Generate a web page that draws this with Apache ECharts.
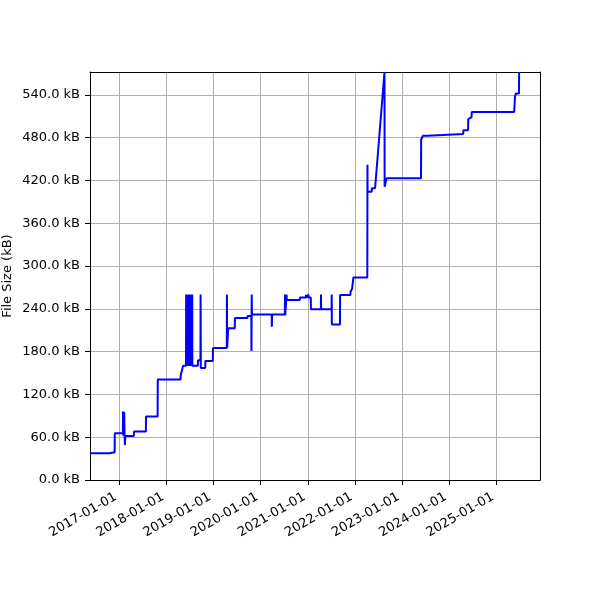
<!DOCTYPE html>
<html>
<head>
<meta charset="utf-8">
<script src="https://cdn.jsdelivr.net/npm/echarts@6/dist/echarts.min.js"></script>
<style>html,body{margin:0;padding:0;background:#fff}#c{width:600px;height:600px}</style>
</head>
<body>
<div id="c"></div>
<script>
// Commit dates and file sizes (kB)
const dates = [
 '2016-05-19','2016-07-08','2016-07-10','2016-07-13','2016-10-19','2016-10-20','2016-11-26','2016-11-27',
 '2017-01-29','2017-01-30','2017-02-01','2017-02-03','2017-02-06','2017-02-08','2017-02-11','2017-02-14','2017-02-16',
 '2017-04-24','2017-04-25','2017-07-26','2017-07-27','2017-10-25','2017-10-26',
 '2018-04-21','2018-04-22','2018-05-10',
 '2018-06-02','2018-06-03','2018-06-04','2018-06-08','2018-06-09','2018-06-10','2018-06-14','2018-06-15','2018-06-16',
 '2018-06-20','2018-06-21','2018-06-22','2018-06-26','2018-06-27','2018-06-28','2018-07-02','2018-07-03','2018-07-04',
 '2018-07-08','2018-07-09','2018-07-10','2018-07-14','2018-07-15','2018-07-16','2018-07-19','2018-07-20','2018-07-21',
 '2018-09-02','2018-09-03','2018-09-22','2018-09-23','2018-09-25','2018-10-29','2018-10-30','2018-12-27','2018-12-28',
 '2019-04-14','2019-04-15','2019-04-17','2019-04-25','2019-06-15','2019-06-16','2019-09-21','2019-09-22',
 '2019-10-21','2019-10-22','2019-10-24','2019-10-26',
 '2020-03-27','2020-03-28','2020-03-30','2020-07-07','2020-07-08','2020-07-10','2020-07-20','2020-07-22',
 '2020-10-31','2020-11-01','2020-12-17','2020-12-18','2020-12-20',
 '2021-01-04','2021-01-05','2021-01-07','2021-01-24','2021-01-25',
 '2021-04-12','2021-04-13','2021-04-14','2021-07-04','2021-07-05','2021-07-06','2021-09-07','2021-09-08',
 '2021-11-27','2021-11-28','2021-12-09','2021-12-10','2021-12-19','2021-12-20',
 '2022-04-07','2022-04-08','2022-04-09','2022-05-11','2022-05-12','2022-06-06','2022-08-18','2022-08-19','2022-09-02','2022-09-03',
 '2023-05-28','2023-05-29','2023-06-10','2023-06-11','2023-07-16','2023-07-17',
 '2024-04-19','2024-04-20','2024-05-27','2024-05-28','2024-06-10','2024-06-11','2024-06-23','2024-06-24',
 '2025-05-19','2025-05-20','2025-05-25','2025-06-02','2025-06-25','2025-06-26'
];
const sizesKB = [
 37.4,37.4,35.5,37.4,37.4,38.8,38.8,65.5,
 65.5,96,62,96,64,95,62,49,61.7,
 61.7,68,68,89,89,141,
 141,147,160,
 160,260,160,160,260,160,160,260,160,
 160,260,160,160,260,160,160,260,160,
 160,260,160,160,260,160,160,260,160,
 160,168,168,260,157,157,167,167,185,
 185,260,185,212.6,212.6,227,227,230,
 230,181,260,232,
 232,215,232,232,260,231,260,252.5,
 252.5,255.7,255.7,259.5,255.7,
 255.7,260,255.7,255.7,239.4,
 239.4,260,239.4,239.4,260,218,218,259.5,
 259.5,264,264,268,268,284,
 284,442,404,404,409,409,572,411,411,423,
 423,477,477,482.5,482.5,485,
 485,490.5,490.5,506,506,508.7,508.7,516,
 516,515,537.6,542,542,572
];
const yTicks = [0, 60, 120, 180, 240, 300, 360, 420, 480, 540];
const xRange = ['2016-05-19', '2025-12-05'];
const yMaxKB = 572;

const toMs = s => { const p = s.split('-').map(Number); return Date.UTC(p[0], p[1] - 1, p[2]); };
const points = dates.map((d, i) => [toMs(d), sizesKB[i]]);
const DAY = 86400000;
const font = '"DejaVu Sans", sans-serif';

const chart = echarts.init(document.getElementById('c'), null, { renderer: 'canvas' });
chart.setOption({
  useUTC: true,
  animation: false,
  backgroundColor: '#ffffff',
  grid: { left: 90, right: 60, top: 72, bottom: 120, containLabel: false, outerBoundsMode: 'none' },
  xAxis: [{
    type: 'time',
    min: toMs(xRange[0]),
    max: toMs(xRange[1]),
    minInterval: 365 * DAY,
    maxInterval: 365 * DAY,
    axisLine: { show: true, onZero: false, lineStyle: { color: '#000', width: 1 } },
    axisTick: { show: true, length: 5, lineStyle: { color: '#000', width: 1 } },
    splitLine: { show: true, lineStyle: { color: '#b0b0b0', width: 1 } },
    axisLabel: {
      rotate: 30, margin: 14, padding: [0, 4, 0, 0], color: '#000', fontFamily: font, fontSize: 13,
      showMinLabel: false, showMaxLabel: false, hideOverlap: false,
      formatter: v => echarts.time.format(v, '{yyyy}-{MM}-{dd}', true)
    }
  }, {
    type: 'time', position: 'top',
    min: toMs(xRange[0]), max: toMs(xRange[1]),
    axisLine: { show: true, onZero: false, lineStyle: { color: '#000', width: 1 } },
    axisTick: { show: false }, axisLabel: { show: false }, splitLine: { show: false }
  }],
  yAxis: [{
    type: 'value',
    min: 0, max: yMaxKB, interval: 60,
    name: 'File Size (kB)', nameLocation: 'middle', nameGap: 76, nameMoveOverlap: false,
    nameTextStyle: { color: '#000', fontFamily: font, fontSize: 13 },
    axisLine: { show: true, lineStyle: { color: '#000', width: 1 } },
    axisTick: { show: true, length: 5, lineStyle: { color: '#000', width: 1 } },
    splitLine: { show: true, lineStyle: { color: '#b0b0b0', width: 1 } },
    axisLabel: {
      color: '#000', fontFamily: font, fontSize: 13, margin: 10, showMaxLabel: false,
      formatter: v => (yTicks.indexOf(v) >= 0 ? v.toFixed(1) + ' kB' : '')
    }
  }, {
    type: 'value', position: 'right', min: 0, max: yMaxKB,
    axisLine: { show: true, lineStyle: { color: '#000', width: 1 } },
    axisTick: { show: false }, axisLabel: { show: false }, splitLine: { show: false }
  }],
  series: [{
    type: 'line',
    xAxisIndex: 0, yAxisIndex: 0,
    data: points,
    showSymbol: false,
    clip: true,
    lineStyle: { color: '#0000ff', width: 2 },
    itemStyle: { color: '#0000ff' }
  }]
});
</script>
</body>
</html>
